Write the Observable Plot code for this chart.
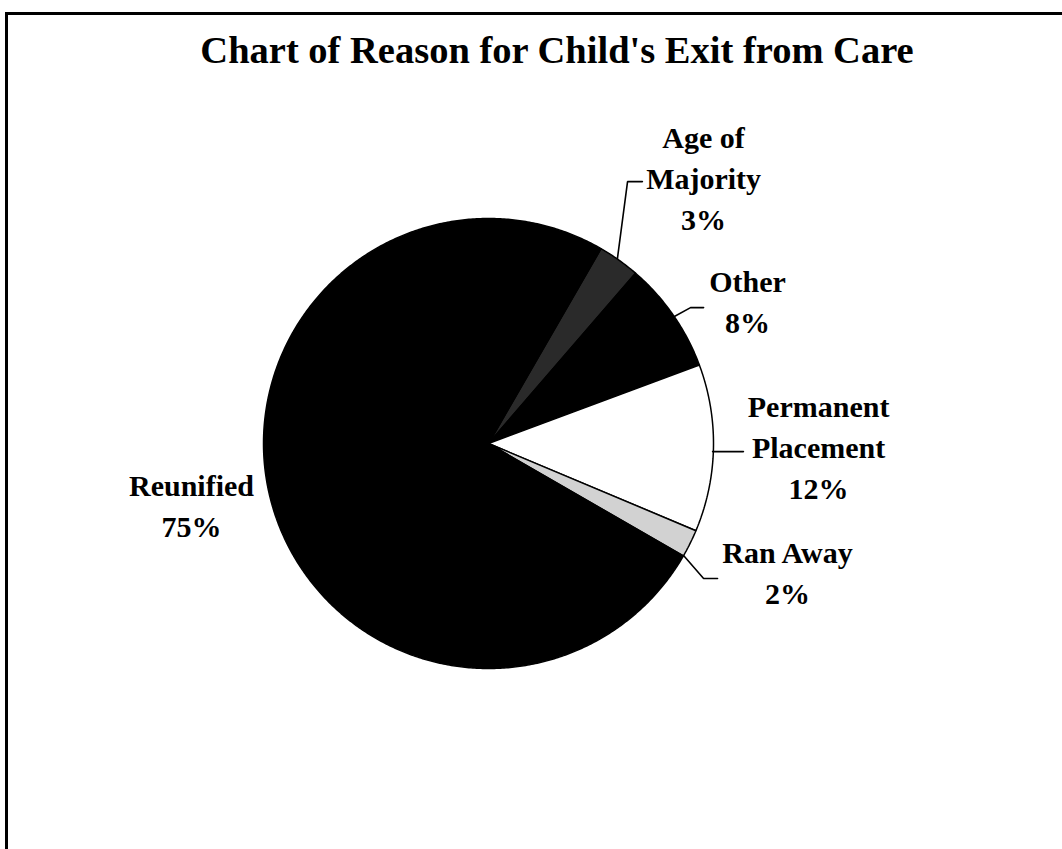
<!DOCTYPE html>
<html><head><meta charset="utf-8">
<script src="https://cdn.jsdelivr.net/npm/d3@7"></script>
<script src="https://cdn.jsdelivr.net/npm/@observablehq/plot@0.6"></script>
<style>
body{margin:0;background:#fff;}
#wrap{position:relative;width:1062px;height:849px;overflow:hidden;background:#fff;}
#title{height:100px;line-height:100px;text-align:center;font-family:"Liberation Serif","Times New Roman",serif;font-weight:bold;font-size:38.5px;width:1114px;white-space:nowrap;}
.bt{position:absolute;left:5px;top:12px;width:1057px;height:0;border-top:3px solid #000;}
.bl{position:absolute;left:5px;top:12px;width:0;height:837px;border-left:3px solid #000;}
</style></head>
<body><div id="wrap"><div id="title">Chart of Reason for Child's Exit from Care</div><div id="chart"></div><div class="bt"></div><div class="bl"></div></div>
<script>
// ---- data ----
const categories = ["Age of Majority", "Other", "Permanent Placement", "Ran Away", "Reunified"];
const percents = [3, 8, 12, 2, 75];
const labelNames = ["Age of\nMajority", "Other", "Permanent\nPlacement", "Ran Away", "Reunified"];
const fills = ["#2a2a2a", "#000000", "#ffffff", "#d2d2d2", "#000000"];

// ---- layout (unit-circle coordinates, y up) ----
const startDeg = 30;
const labelAt = [[0.956, 1.189], [1.151, 0.640], [1.467, -0.006], [1.329, -0.562], [-1.32, -0.266]];
const leaders = [
  [[0.573, 0.822], [0.618, 1.164], [0.684, 1.164]],
  [[0.818, 0.560], [0.898, 0.604], [0.956, 0.604]],
  [[0.996, -0.036], [1.133, -0.036]],
  [[0.867, -0.498], [0.956, -0.600], [1.018, -0.600]],
  null
];

const rows = categories.map((c, i) => ({category: c, value: percents[i], fill: fills[i]}));
const arcs = d3.pie().value(d => d.value).sort(null)
  .startAngle(startDeg * Math.PI / 180).endAngle(startDeg * Math.PI / 180 + 2 * Math.PI)(rows);

function slicePoints(a) {
  const pts = [{x: 0, y: 0}];
  const n = Math.max(2, Math.ceil((a.endAngle - a.startAngle) / (Math.PI / 360)));
  for (let k = 0; k <= n; k++) {
    const t = a.startAngle + (a.endAngle - a.startAngle) * k / n;
    pts.push({x: Math.sin(t), y: Math.cos(t)});
  }
  pts.push({x: 0, y: 0});
  return pts;
}

const cx = 488, cy = 343, r = 225;
const marks = [];
arcs.forEach(a => {
  marks.push(Plot.line(slicePoints(a), {x: "x", y: "y", fill: a.data.fill, stroke: "#000", strokeWidth: 1.5, curve: "linear", strokeLinejoin: "miter"}));
});
leaders.forEach(l => {
  if (l) marks.push(Plot.line(l.map(p => ({x: p[0], y: p[1]})), {x: "x", y: "y", stroke: "#000", strokeWidth: 1.6, curve: "linear", strokeLinejoin: "miter"}));
});
const labels = categories.map((c, i) => ({x: labelAt[i][0], y: labelAt[i][1], text: labelNames[i] + "\n" + percents[i] + "%"}));
marks.push(Plot.text(labels, {x: "x", y: "y", text: "text", fontSize: 30, fontWeight: "bold", lineHeight: 1.37, textAnchor: "middle", fill: "#000"}));

const chart = Plot.plot({
  width: 1062, height: 749,
  margin: 0,
  x: {domain: [-1, 1], range: [cx - r, cx + r], axis: null},
  y: {domain: [-1, 1], range: [cy + r, cy - r], axis: null},
  style: {fontFamily: "'Liberation Serif', 'Times New Roman', serif", background: "transparent", overflow: "visible"},
  marks
});
document.getElementById("chart").appendChild(chart);
</script>
</body></html>
